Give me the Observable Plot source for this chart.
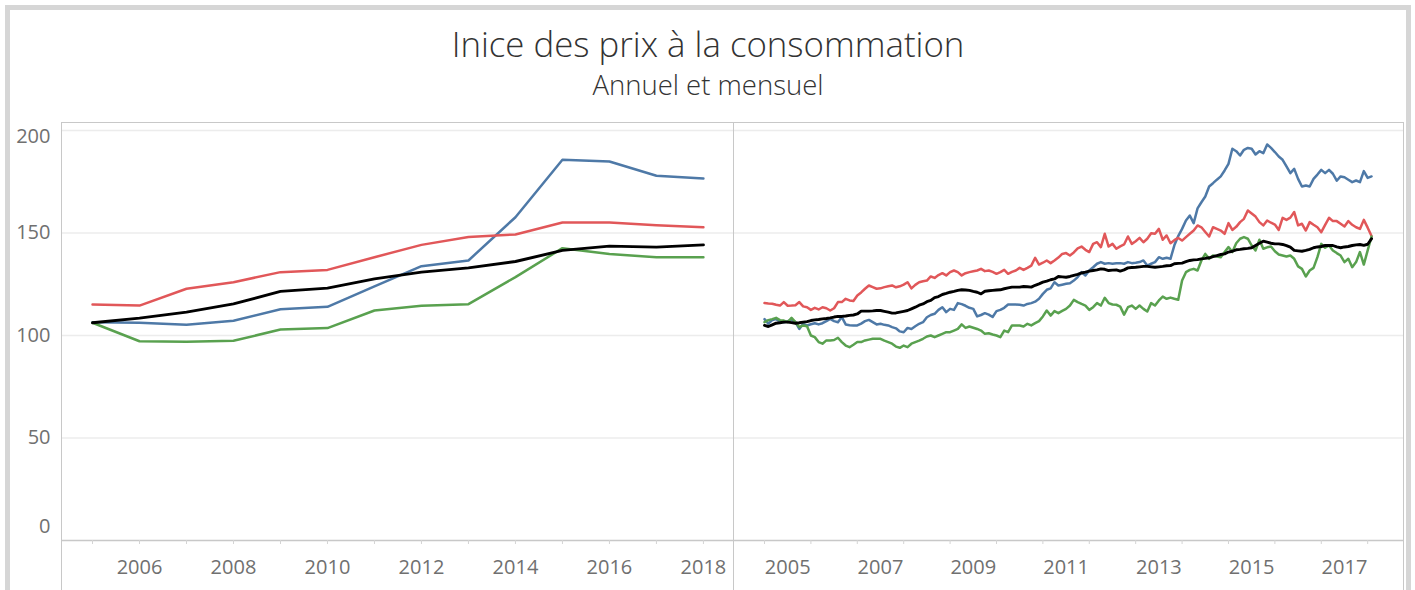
<!DOCTYPE html>
<html><head><meta charset="utf-8">
<script src="https://cdn.jsdelivr.net/npm/d3@7"></script>
<script src="https://cdn.jsdelivr.net/npm/@observablehq/plot@0.6"></script>
<style>
html,body{margin:0;padding:0;background:#fff;overflow:hidden;width:1415px;height:590px;}
body{font-family:"Open Sans",sans-serif;position:relative;}
#frame{position:absolute;left:5px;top:5px;width:1396px;height:600px;border:5px solid #d6d6d6;}
#title{position:absolute;left:10px;width:1396px;top:27px;text-align:center;font-size:34.8px;line-height:1;font-weight:300;color:#333;white-space:nowrap;}
#subtitle{position:absolute;left:10px;width:1396px;top:71px;text-align:center;font-size:27.5px;line-height:1;font-weight:300;color:#333;white-space:nowrap;}
#left{position:absolute;left:0;top:112px;}
#right{position:absolute;left:733px;top:112px;}
.vline{position:absolute;top:122px;width:1px;height:470px;background:#c8c8c8;}
.hline{position:absolute;top:122px;left:61px;width:1343px;height:1px;background:#c8c8c8;}
</style></head><body>
<div id="frame"></div>
<div id="title">Inice des prix à la consommation</div>
<div id="subtitle">Annuel et mensuel</div>
<div id="left"></div>
<div id="right"></div>
<div class="hline"></div>
<div class="vline" style="left:61px"></div>
<div class="vline" style="left:733px"></div>
<div class="vline" style="left:1403px"></div>
<script>
// ---- Data ----
const seriesNames = ["Série bleue", "Série rouge", "Série verte", "Ensemble"];
const seriesColors = ["#4e79a7", "#e15759", "#59a14f", "#000000"];

// Annual (left panel)
const annualYears = [2005, 2006, 2007, 2008, 2009, 2010, 2011, 2012, 2013, 2014, 2015, 2016, 2017, 2018];
const annualBlue  = [106.5, 106.2, 105.2, 107.2, 112.8, 114.0, 124.0, 133.8, 136.6, 157.7, 185.7, 184.9, 177.9, 176.6];
const annualRed   = [115.1, 114.6, 122.8, 126.0, 130.9, 132.0, 138.2, 144.2, 148.0, 149.3, 155.1, 155.1, 153.8, 152.8];
const annualGreen = [106.2, 97.2, 97.0, 97.4, 102.9, 103.6, 112.2, 114.5, 115.3, 128.5, 142.6, 139.7, 138.2, 138.2];
const annualBlack = [106.2, 108.5, 111.4, 115.4, 121.5, 123.1, 127.6, 130.9, 133.0, 136.1, 141.5, 143.6, 143.1, 144.2];

// Monthly (right panel), starting January 2005
const monthlyStartYear = 2005;
const monthlyBlue = [
  108.0, 105.8, 107.5, 108.0, 106.8, 106.5, 107.0, 107.6, 106.5, 103.2, 105.7, 104.9,
  105.5, 106.0, 105.4, 106.0, 107.0, 108.1, 107.0, 106.5, 109.0, 105.4, 105.0, 104.9,
  104.9, 105.8, 107.0, 107.6, 106.5, 105.4, 105.7, 105.2, 104.9, 104.1, 103.5, 102.0,
  101.6, 103.7, 103.2, 104.5, 105.7, 106.5, 108.9, 110.0, 110.6, 112.5, 113.8, 111.4,
  113.0, 112.5, 115.8, 115.3, 114.5, 113.5, 113.0, 109.3, 110.0, 110.9, 110.2, 109.0,
  111.9, 112.5, 113.5, 115.1, 115.1, 115.1, 115.0, 114.6, 115.4, 115.8, 116.5, 117.9,
  120.3, 122.3, 123.0, 126.0, 124.4, 124.8, 125.2, 125.5, 126.8, 128.5, 130.9, 129.3,
  131.7, 133.3, 135.0, 135.8, 135.0, 135.3, 135.0, 135.2, 135.3, 135.0, 135.8, 135.3,
  135.5, 135.8, 136.6, 134.1, 135.0, 135.8, 138.2, 137.4, 137.9, 137.4, 144.0, 148.5,
  152.0, 156.1, 158.5, 154.8, 162.0, 165.0, 167.8, 172.7, 174.3, 176.0, 177.6, 180.5,
  183.7, 191.1, 189.9, 187.8, 190.6, 191.5, 191.1, 188.3, 189.9, 188.9, 193.2, 191.5,
  189.5, 187.3, 185.7, 182.5, 179.2, 181.3, 176.4, 172.7, 173.2, 172.7, 176.4, 178.5,
  180.8, 179.2, 180.8, 178.9, 175.5, 177.6, 177.2, 176.0, 174.8, 175.6, 174.8, 180.2,
  176.9, 177.6
];
const monthlyRed = [
  115.8, 115.6, 115.5, 115.0, 114.6, 116.3, 114.5, 114.6, 114.8, 116.3, 114.2, 113.8,
  112.5, 113.5, 112.7, 113.8, 113.3, 112.2, 113.3, 116.3, 116.3, 117.9, 117.1, 116.8,
  119.5, 121.0, 122.8, 124.4, 123.6, 122.8, 123.0, 123.6, 124.0, 124.4, 123.5, 124.0,
  124.8, 126.0, 123.0, 124.7, 126.0, 126.5, 126.8, 128.8, 128.1, 129.5, 130.4, 129.3,
  130.9, 131.7, 130.9, 129.3, 130.4, 130.9, 131.3, 131.7, 132.5, 131.4, 131.7, 131.0,
  130.1, 130.9, 132.0, 130.1, 131.0, 131.7, 133.0, 132.0, 133.0, 134.1, 137.9, 134.6,
  135.5, 136.6, 135.3, 136.6, 138.0, 139.8, 140.2, 139.0, 140.5, 142.5, 143.4, 141.8,
  140.7, 144.7, 145.5, 143.1, 149.6, 143.4, 144.7, 142.3, 143.5, 144.4, 148.3, 144.7,
  146.0, 147.6, 145.5, 147.2, 149.9, 149.6, 152.0, 146.7, 148.8, 145.0, 146.5, 147.6,
  146.3, 148.0, 149.6, 151.2, 153.7, 152.8, 150.5, 148.3, 152.8, 152.0, 151.2, 149.6,
  154.8, 151.5, 153.0, 155.3, 156.9, 161.0, 159.5, 158.0, 155.3, 153.7, 156.1, 155.0,
  154.1, 151.5, 157.4, 156.4, 157.5, 160.2, 153.7, 154.5, 151.2, 155.3, 154.0, 152.8,
  150.4, 154.0, 157.4, 155.8, 155.8, 154.5, 153.2, 155.8, 154.0, 152.8, 152.0, 156.4,
  152.6, 148.5
];
const monthlyGreen = [
  106.5, 107.5, 108.0, 108.6, 107.5, 107.3, 106.5, 108.6, 106.5, 104.1, 104.9, 104.5,
  100.0, 99.2, 96.8, 96.0, 97.6, 97.6, 97.8, 98.9, 96.8, 95.1, 94.3, 95.5,
  96.8, 96.8, 97.6, 98.0, 98.4, 98.4, 98.4, 97.5, 96.8, 96.0, 94.6, 94.0,
  95.1, 94.3, 96.0, 96.8, 97.5, 98.4, 99.5, 100.0, 99.2, 100.0, 100.8, 101.6,
  101.6, 102.4, 103.2, 105.4, 103.7, 104.4, 103.8, 103.2, 102.4, 100.8, 101.1, 100.5,
  100.0, 99.2, 102.4, 101.6, 104.9, 104.9, 104.9, 104.4, 105.7, 104.9, 106.0, 107.0,
  109.3, 112.2, 109.7, 111.9, 110.9, 112.0, 113.0, 114.6, 117.4, 116.3, 115.4, 114.6,
  112.5, 113.8, 115.8, 114.6, 118.4, 115.8, 115.1, 115.0, 114.1, 110.2, 113.8, 114.6,
  113.0, 114.6, 113.0, 111.7, 115.8, 114.6, 117.1, 119.0, 117.9, 118.5, 117.9, 117.4,
  126.8, 130.9, 132.0, 132.5, 131.7, 136.6, 139.8, 137.4, 139.0, 138.5, 138.2, 140.7,
  143.1, 140.7, 145.0, 147.2, 148.0, 147.2, 143.9, 141.5, 146.7, 142.3, 143.0, 143.4,
  141.1, 139.5, 139.0, 138.5, 139.0, 137.4, 133.7, 132.5, 128.8, 131.7, 133.0, 138.2,
  144.7, 142.8, 143.9, 141.5, 140.2, 139.0, 135.8, 137.4, 133.3, 135.8, 140.7, 134.6,
  141.5, 148.3
];
const monthlyBlack = [
  104.9, 104.4, 105.2, 106.0, 106.2, 106.5, 106.5, 106.3, 106.0, 106.2, 106.5, 106.8,
  107.3, 107.6, 107.8, 108.1, 108.3, 108.6, 109.0, 109.3, 109.3, 109.5, 109.8, 110.0,
  110.5, 111.9, 111.9, 111.9, 112.0, 112.2, 112.2, 111.8, 111.4, 110.9, 111.0, 111.4,
  111.8, 112.2, 113.0, 113.8, 114.8, 115.4, 116.5, 117.1, 118.5, 119.0, 120.0, 120.5,
  121.1, 121.5, 122.0, 122.3, 122.2, 122.0, 121.5, 121.1, 120.3, 121.6, 121.8, 122.0,
  122.2, 122.3, 122.8, 123.2, 123.6, 123.6, 123.6, 123.9, 123.8, 123.6, 124.5, 125.2,
  126.0, 126.5, 127.2, 127.6, 128.8, 128.6, 128.4, 128.8, 129.3, 129.8, 130.5, 130.9,
  131.4, 131.7, 132.0, 132.5, 132.3, 131.7, 131.9, 132.0, 131.4, 132.0, 133.0, 133.2,
  133.3, 133.5, 133.7, 133.7, 133.5, 133.3, 133.5, 133.7, 134.0, 134.1, 135.0, 135.2,
  135.3, 136.0, 136.6, 136.9, 137.0, 137.4, 137.6, 137.9, 138.5, 139.0, 139.5, 139.8,
  140.7, 141.1, 141.8, 142.0, 142.3, 142.5, 142.8, 143.9, 145.0, 146.0, 145.5, 145.0,
  144.7, 144.7, 144.4, 143.8, 143.1, 141.5, 141.3, 141.1, 141.5, 142.0, 142.8, 143.2,
  143.4, 143.9, 143.9, 143.9, 143.2, 142.8, 143.2, 143.4, 143.9, 144.2, 144.4, 144.0,
  144.5, 147.2
];

// Axis ticks
const yTicks = [0, 50, 100, 150, 200];
const leftTickYears = [2005, 2006, 2007, 2008, 2009, 2010, 2011, 2012, 2013, 2014, 2015, 2016, 2017, 2018];
const leftLabelYears = [2006, 2008, 2010, 2012, 2014, 2016, 2018];
const rightTickYears = [2005, 2006, 2007, 2008, 2009, 2010, 2011, 2012, 2013, 2014, 2015, 2016, 2017, 2018];
const rightLabelYears = [2005, 2007, 2009, 2011, 2013, 2015, 2017];

// ---- Build tables ----
const annualSeries = [annualBlue, annualRed, annualGreen, annualBlack];
const monthlySeries = [monthlyBlue, monthlyRed, monthlyGreen, monthlyBlack];
const annualTables = annualSeries.map((vals, s) => vals.map((v, i) => ({x: annualYears[i], y: v, series: seriesNames[s]})));
const monthlyTables = monthlySeries.map((vals, s) => vals.map((v, i) => ({x: monthlyStartYear + i / 12, y: v, series: seriesNames[s]})));

const FONT = "'Open Sans', sans-serif";
const H = 478, MT = 10, MB = 50;
const yDomain = [0, 203.9];
const gridColor = "#ececec";
const labelColor = "#707070";

function lineMarks(tables) {
  return tables.map((t, s) => Plot.line(t, {
    x: "x", y: "y", stroke: seriesColors[s],
    strokeWidth: s === 3 ? 2.9 : 2.5, strokeLinejoin: "round", strokeLinecap: "round"
  }));
}

const left = Plot.plot({
  width: 733, height: H, marginLeft: 61, marginRight: 0, marginTop: MT, marginBottom: MB,
  style: {fontFamily: FONT, background: "transparent", overflow: "visible"},
  x: {domain: [2004.34, 2018.64], axis: null},
  y: {domain: yDomain, axis: null},
  marks: [
    Plot.gridY(yTicks.slice(1), {stroke: gridColor, strokeOpacity: 1, strokeWidth: 1.5}),
    Plot.ruleY([0], {stroke: "#c8c8c8", strokeWidth: 1.5}),
    Plot.axisX(leftTickYears, {tickSize: 4, tickFormat: () => "", stroke: "#d4d4d4", label: null}),
    Plot.axisX(leftLabelYears, {tickSize: 0, tickPadding: 19, tickFormat: d => String(d), label: null, fontSize: 20, color: labelColor}),
    Plot.axisY([50, 100, 150], {tickSize: 0, tickPadding: 11, tickFormat: d => String(d), label: null, fontSize: 20, color: labelColor}),
    Plot.axisY([0], {tickSize: 0, tickPadding: 11, tickFormat: d => String(d), label: null, fontSize: 20, color: labelColor, dy: -14}),
    Plot.axisY([200], {tickSize: 0, tickPadding: 11, tickFormat: d => String(d), label: null, fontSize: 20, color: labelColor, dy: 6}),
    ...lineMarks(annualTables)
  ]
});
document.getElementById("left").appendChild(left);

const right = Plot.plot({
  width: 670, height: H, marginLeft: 0, marginRight: 0, marginTop: MT, marginBottom: MB,
  style: {fontFamily: FONT, background: "transparent", overflow: "visible"},
  x: {domain: [2004.332, 2018.772], axis: null},
  y: {domain: yDomain, axis: null},
  marks: [
    Plot.gridY(yTicks.slice(1), {stroke: gridColor, strokeOpacity: 1, strokeWidth: 1.5}),
    Plot.ruleY([0], {stroke: "#c8c8c8", strokeWidth: 1.5}),
    Plot.axisX(rightTickYears, {tickSize: 4, tickFormat: () => "", stroke: "#d4d4d4", label: null}),
    Plot.axisX(rightLabelYears.map(y => y + 0.5), {tickSize: 0, tickPadding: 19, tickFormat: d => String(Math.floor(d)), label: null, fontSize: 20, color: labelColor}),
    ...lineMarks(monthlyTables)
  ]
});
document.getElementById("right").appendChild(right);
</script>
</body></html>
